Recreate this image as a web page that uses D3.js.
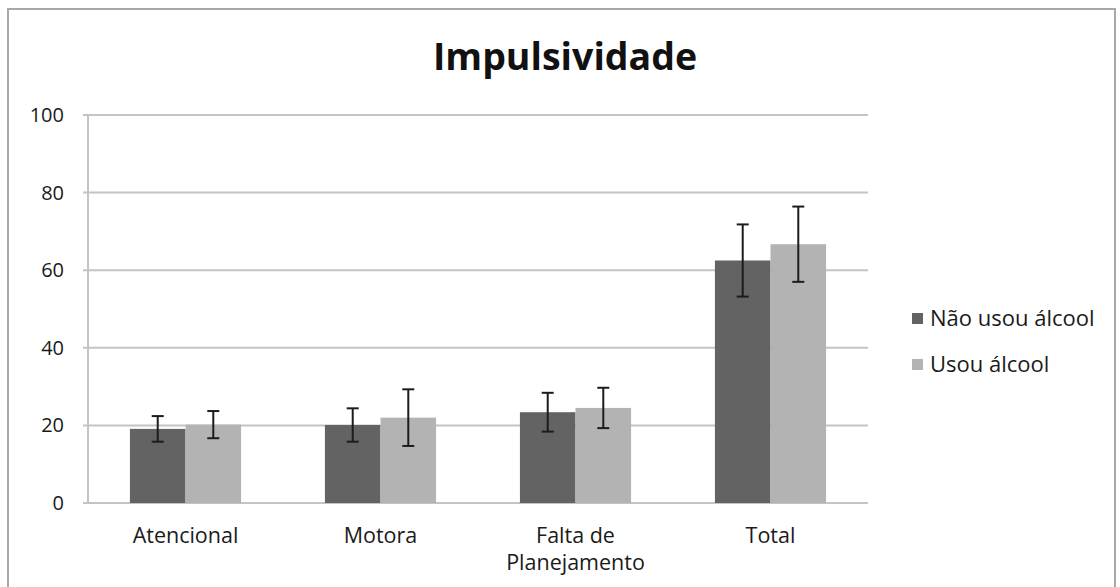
<!DOCTYPE html>
<html>
<head>
<meta charset="utf-8">
<script src="https://cdn.jsdelivr.net/npm/d3@7"></script>
<style>
  body { margin: 0; background: #fff; }
  text { font-family: "Open Sans", sans-serif; }
</style>
</head>
<body>
<svg id="svg" width="1120" height="587"></svg>
<script>
// data
let categories = ["Atencional", "Motora", "Falta de\nPlanejamento", "Total"]
let series = ["Não usou álcool", "Usou álcool"]
let naoUsou = [19.1, 20.1, 23.4, 62.5]
let naoUsouErr = [3.3, 4.3, 5.0, 9.3]
let usou = [20.2, 22.0, 24.5, 66.7]
let usouErr = [3.5, 7.3, 5.2, 9.7]
let yTicks = [0, 20, 40, 60, 80, 100]

// colors
let dark = "#636363"
let light = "#b3b3b3"
let grid = "#c4c4c4"
let colors = [dark, light]

let svg = d3.select("#svg"),
    width = 1120,
    height = 587;

let margin = { left: 88, right: 868, top: 115, bottom: 503 };

// outer frame
svg.append("path")
    .attr("d", "M8,600 L8,9 L1115,9 L1115,600")
    .attr("fill", "none")
    .attr("stroke", "#a8a8a8")
    .attr("stroke-width", 2);

svg.append("text")
    .attr("x", 565)
    .attr("y", 70)
    .attr("text-anchor", "middle")
    .attr("font-size", 37.5)
    .attr("font-weight", "bold")
    .attr("fill", "#111")
    .text("Impulsividade");

let y = d3.scaleLinear()
    .domain([0, 100])
    .range([margin.bottom, margin.top]);

let x0 = d3.scaleBand()
    .domain(categories)
    .range([margin.left, margin.right])
    .paddingInner(0.43)
    .paddingOuter(0.215);

let x1 = d3.scaleBand()
    .domain(series)
    .range([0, x0.bandwidth()]);

// gridlines
svg.append("g")
    .selectAll("line")
    .data(yTicks)
    .join("line")
    .attr("x1", margin.left - 5)
    .attr("x2", margin.right)
    .attr("y1", d => y(d))
    .attr("y2", d => y(d))
    .attr("stroke", grid)
    .attr("stroke-width", 2);

// y axis line
svg.append("line")
    .attr("x1", margin.left)
    .attr("x2", margin.left)
    .attr("y1", margin.top)
    .attr("y2", margin.bottom)
    .attr("stroke", grid)
    .attr("stroke-width", 2);

svg.append("g")
    .selectAll("text")
    .data(yTicks)
    .join("text")
    .attr("x", 64)
    .attr("y", d => y(d) + 7)
    .attr("text-anchor", "end")
    .attr("font-size", 20)
    .attr("fill", "#1a1a1a")
    .text(d => d);

// bars
let rows = categories.map((c, i) => ({
    cat: c,
    vals: [
        { s: series[0], v: naoUsou[i], e: naoUsouErr[i] },
        { s: series[1], v: usou[i], e: usouErr[i] }
    ]
}));

let groups = svg.append("g")
    .selectAll("g")
    .data(rows)
    .join("g")
    .attr("transform", d => "translate(" + x0(d.cat) + ",0)");

groups.selectAll("rect")
    .data(d => d.vals)
    .join("rect")
    .attr("x", d => x1(d.s))
    .attr("y", d => y(d.v))
    .attr("width", x1.bandwidth())
    .attr("height", d => y(0) - y(d.v))
    .attr("fill", (d, i) => colors[i]);

// error bars
let eb = groups.selectAll("g.err")
    .data(d => d.vals)
    .join("g")
    .attr("class", "err")
    .attr("stroke", "#1c1c1c")
    .attr("stroke-width", 2);

eb.append("line")
    .attr("x1", d => x1(d.s) + x1.bandwidth() / 2)
    .attr("x2", d => x1(d.s) + x1.bandwidth() / 2)
    .attr("y1", d => y(d.v + d.e))
    .attr("y2", d => y(d.v - d.e));

eb.selectAll("line.cap")
    .data(d => [[d, d.v + d.e], [d, d.v - d.e]])
    .join("line")
    .attr("class", "cap")
    .attr("x1", d => x1(d[0].s) + x1.bandwidth() / 2 - 6)
    .attr("x2", d => x1(d[0].s) + x1.bandwidth() / 2 + 6)
    .attr("y1", d => y(d[1]))
    .attr("y2", d => y(d[1]));

// category labels
svg.append("g")
    .selectAll("text")
    .data(categories)
    .join("text")
    .attr("x", d => x0(d) + x0.bandwidth() / 2)
    .attr("y", 543)
    .attr("text-anchor", "middle")
    .attr("font-size", 21.5)
    .attr("fill", "#1a1a1a")
    .selectAll("tspan")
    .data(d => d.split("\n"))
    .join("tspan")
    .attr("x", function () { return d3.select(this.parentNode).attr("x"); })
    .attr("dy", (d, i) => i == 0 ? 0 : 27)
    .text(d => d);

// legend
let legend = svg.append("g")
    .selectAll("g")
    .data(series)
    .join("g")
    .attr("transform", (d, i) => "translate(912," + (319 + i * 46) + ")");

legend.append("rect")
    .attr("x", 0)
    .attr("y", -6)
    .attr("width", 11)
    .attr("height", 11)
    .attr("fill", (d, i) => colors[i]);

legend.append("text")
    .attr("x", 18)
    .attr("y", 7)
    .attr("font-size", 22)
    .attr("fill", "#1a1a1a")
    .text(d => d);
</script>
</body>
</html>
